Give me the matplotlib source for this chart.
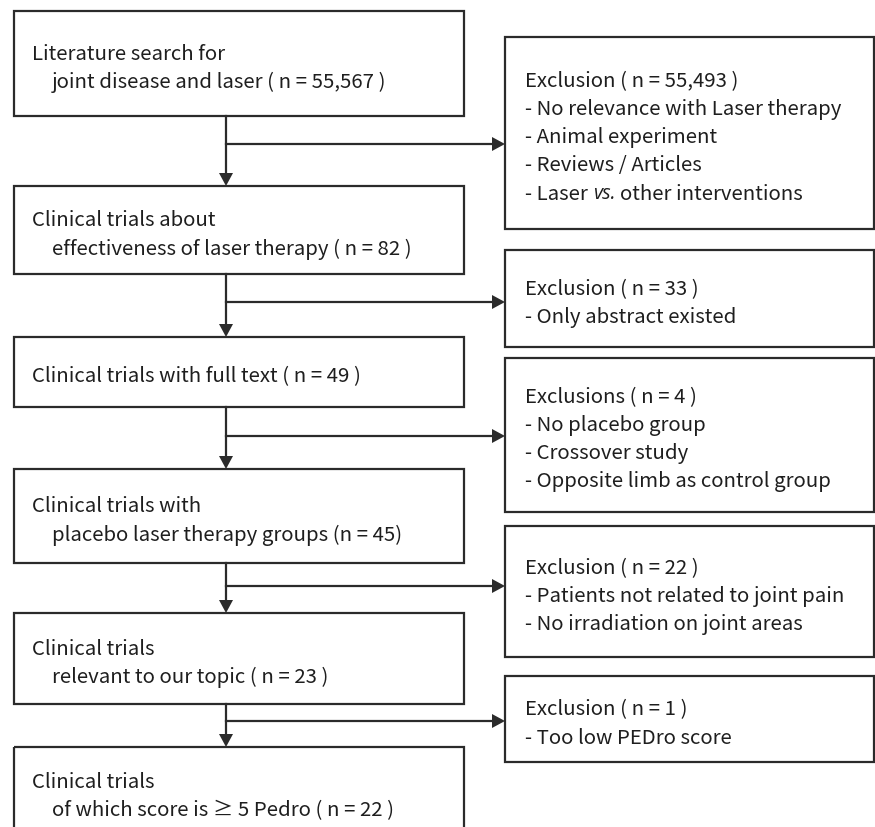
import matplotlib.pyplot as plt
from matplotlib.patches import Rectangle, Polygon

plt.rcParams['font.family'] = ['Noto Sans CJK KR', 'DejaVu Sans']

# flowchart content
main_lines = [
    ["Literature search for", "joint disease and laser ( n = 55,567 )"],
    ["Clinical trials about", "effectiveness of laser therapy ( n = 82 )"],
    ["Clinical trials with full text ( n = 49 )"],
    ["Clinical trials with", "placebo laser therapy groups (n = 45)"],
    ["Clinical trials", "relevant to our topic ( n = 23 )"],
    ["Clinical trials", "of which score is \u2265 5 Pedro ( n = 22 )"],
]
excl_lines = [
    ["Exclusion ( n = 55,493 )", "- No relevance with Laser therapy",
     "- Animal experiment", "- Reviews / Articles", "- Laser |vs.| other interventions"],
    ["Exclusion ( n = 33 )", "- Only abstract existed"],
    ["Exclusions ( n = 4 )", "- No placebo group", "- Crossover study",
     "- Opposite limb as control group"],
    ["Exclusion ( n = 22 )", "- Patients not related to joint pain",
     "- No irradiation on joint areas"],
    ["Exclusion ( n = 1 )", "- Too low PEDro score"],
]

# layout in pixels (y grows downward)
main_x0, main_x1 = 14, 464
main_y = [(11, 116), (186, 274), (337, 407), (469, 563), (613, 704), (747, 840)]
excl_x0, excl_x1 = 505, 874
excl_y = [(37, 229), (250, 347), (358, 512), (526, 657), (676, 762)]
branch_y = [144, 302, 436, 586, 721]
stem_x = 226
line_h = 28
dy = 5
fs = 14.7
lc = "#2b2b2b"
tc = "#1e1e1e"
lw = 1.6

fig = plt.figure(figsize=(8.75, 8.27), dpi=100)
ax = fig.add_axes([0, 0, 1, 1])
ax.set_xlim(0, 875)
ax.set_ylim(827, 0)
ax.axis("off")


def arrow_head(x, y, direction):
    s = 7
    if direction == "down":
        pts = [(x - s, y - 13), (x + s, y - 13), (x, y)]
    else:
        pts = [(x - 13, y - s), (x - 13, y + s), (x, y)]
    ax.add_patch(Polygon(pts, closed=True, color=lc, lw=0))


for i, (lines, (y0, y1)) in enumerate(zip(main_lines, main_y)):
    ax.add_patch(Rectangle((main_x0, y0), main_x1 - main_x0, y1 - y0,
                           fill=False, ec=lc, lw=lw))
    yc = (y0 + y1) / 2 if i < 5 else 792
    start = yc - (len(lines) - 1) * line_h / 2 + dy
    for j, t in enumerate(lines):
        ax.text(main_x0 + 18 + (20 if j > 0 else 0), start + j * line_h, t,
                fontsize=fs, va="center", ha="left", color=tc)

for i, (lines, (y0, y1)) in enumerate(zip(excl_lines, excl_y)):
    ax.add_patch(Rectangle((excl_x0, y0), excl_x1 - excl_x0, y1 - y0,
                           fill=False, ec=lc, lw=lw))
    yc = (y0 + y1) / 2
    start = yc - (len(lines) - 1) * line_h / 2 + dy
    for j, t in enumerate(lines):
        yy = start + j * line_h
        if "|" in t:
            a, b, c = t.split("|")
            t1 = ax.text(excl_x0 + 20, yy, a.strip(), fontsize=fs, va="center",
                         ha="left", color=tc)
            t2 = ax.annotate(b, xy=(1, 0.5), xycoords=t1, xytext=(3.5, 0),
                             textcoords="offset points", va="center", ha="left",
                             fontsize=fs - 0.5, style="italic", color=tc,
                             family=["Open Sans", "DejaVu Sans"])
            ax.annotate(c.strip(), xy=(1, 0.5), xycoords=t2, xytext=(3.5, 0),
                        textcoords="offset points", va="center", ha="left",
                        fontsize=fs, color=tc)
        else:
            ax.text(excl_x0 + 20, yy, t, fontsize=fs, va="center", ha="left",
                    color=tc)

# connectors
for i in range(5):
    ytop = main_y[i][1]
    ybot = main_y[i + 1][0]
    ax.plot([stem_x, stem_x], [ytop, ybot - 12], color=lc, lw=lw)
    arrow_head(stem_x, ybot, "down")
    ax.plot([stem_x, excl_x0 - 12], [branch_y[i], branch_y[i]], color=lc, lw=lw)
    arrow_head(excl_x0, branch_y[i], "right")

fig.savefig("out.png", dpi=100)
